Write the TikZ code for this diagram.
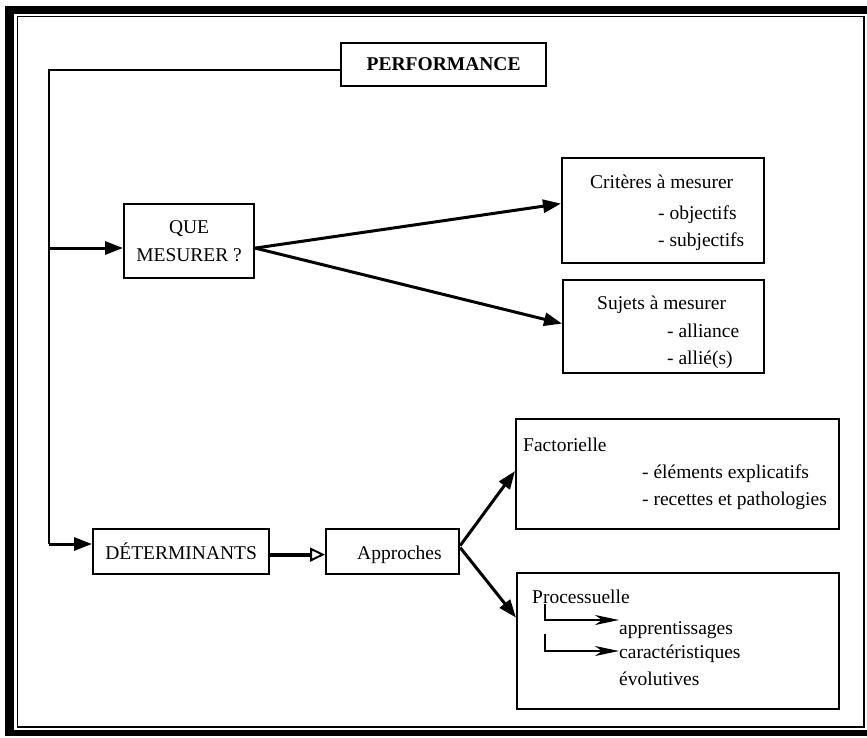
\documentclass[tikz,border=0pt]{standalone}
\usepackage{fontspec}
\setmainfont{Liberation Serif}
\usetikzlibrary{arrows.meta,calc}
\begin{document}
\begin{tikzpicture}[x=1pt,y=-1pt,
  box/.style={draw,line width=2.2pt,inner sep=0pt,anchor=north west,
    font=\fontsize{19.5}{28}\selectfont},
  lbl/.style={inner sep=0pt,anchor=base west,font=\fontsize{19.5}{22}\selectfont},
  conn/.style={line width=3pt,-{Triangle[length=18pt,width=13pt]}},
  bent/.style={line width=1.8pt,-{Stealth[length=24pt,width=10pt,inset=7pt]}},
]
\useasboundingbox (0,0) rectangle (867,738);

% page frame: heavy outer border and thin inner rule
\fill (5,6) rectangle (867,14);
\fill (5,6) rectangle (14,736);
\fill (5,730) rectangle (867,736);
\draw[line width=1.5pt] (17.5,16.5) rectangle (864,727);

% boxes
\node[box,minimum width=205pt,minimum height=43pt,font=\fontsize{19.5}{22}\selectfont\bfseries] (perf) at (340,42) {PERFORMANCE};
\node[box,minimum width=130pt,minimum height=74pt,align=center] (que) at (123,203) {QUE\\MESURER ?};
\node[box,minimum width=202pt,minimum height=105pt] (crit) at (561,157) {};
\node[box,minimum width=201pt,minimum height=93pt] (suj) at (562,279) {};
\node[box,minimum width=176pt,minimum height=45pt] (det) at (92,528) {DÉTERMINANTS};
\node[box,minimum width=133pt,minimum height=45pt] (appr) at (325,528) {};
\node[box,minimum width=323pt,minimum height=110pt] (fact) at (515,418) {};
\node[box,minimum width=322pt,minimum height=136pt] (proc) at (516,572) {};

% texts
\node[lbl] (t1) at (590,189) {Critères à mesurer};
\node[lbl] (t2) at (658,219) {- objectifs};
\node[lbl] (t3) at (658,246) {- subjectifs};
\node[lbl] (t4) at (597,309) {Sujets à mesurer};
\node[lbl] (t5) at (667,337) {- alliance};
\node[lbl] (t6) at (667,364) {- allié(s)};
\node[lbl] (t7) at (357,559) {Approches};
\node[lbl] (t8) at (523,451) {Factorielle};
\node[lbl] (t9) at (642,478) {- éléments explicatifs};
\node[lbl] (t10) at (642,505) {- recettes et pathologies};
\node[lbl] (t11) at (532,603) {Processuelle};
\node[lbl] (t12) at (619,634) {apprentissages};
\node[lbl] (t13) at (619,658) {caractéristiques};
\node[lbl] (t14) at (619,685) {évolutives};

% trunk line from PERFORMANCE down the left side
\coordinate (c1) at (49,70);
\coordinate (c2) at (49,248);
\coordinate (c3) at (49,544);
\draw[line width=2.2pt] (c1 -| perf.west) -- (c1) -- (c3);
\draw[conn] (c2) -- (c2 -| que.west);
\draw[conn] (c3) -- (c3 -| det.west);

% QUE MESURER branches
\draw[conn] ([yshift=-7pt]que.east) -- ([yshift=7pt]crit.west);
\draw[conn] ([yshift=-7pt]que.east) -- ([yshift=3pt]suj.west);

% DETERMINANTS to Approches
\draw[line width=4pt,-{Triangle[open,length=15pt,width=14pt,line width=2pt]}] ([yshift=-3pt]det.east) -- ([yshift=-3pt]appr.west);

% Approches branches
\draw[conn] ([yshift=6pt]appr.east) -- ([yshift=3pt]fact.west);
\draw[conn] ([yshift=4pt]appr.east) -- ($(proc.north west)!0.33!(proc.south west)$);

% bent arrows inside Processuelle
\coordinate (b1) at (545,604);
\coordinate (b1e) at (619,620);
\coordinate (b2) at (545,634);
\coordinate (b2e) at (619,651);
\draw[bent] (b1) |- (b1e);
\draw[bent] (b2) |- (b2e);
\end{tikzpicture}
\end{document}
